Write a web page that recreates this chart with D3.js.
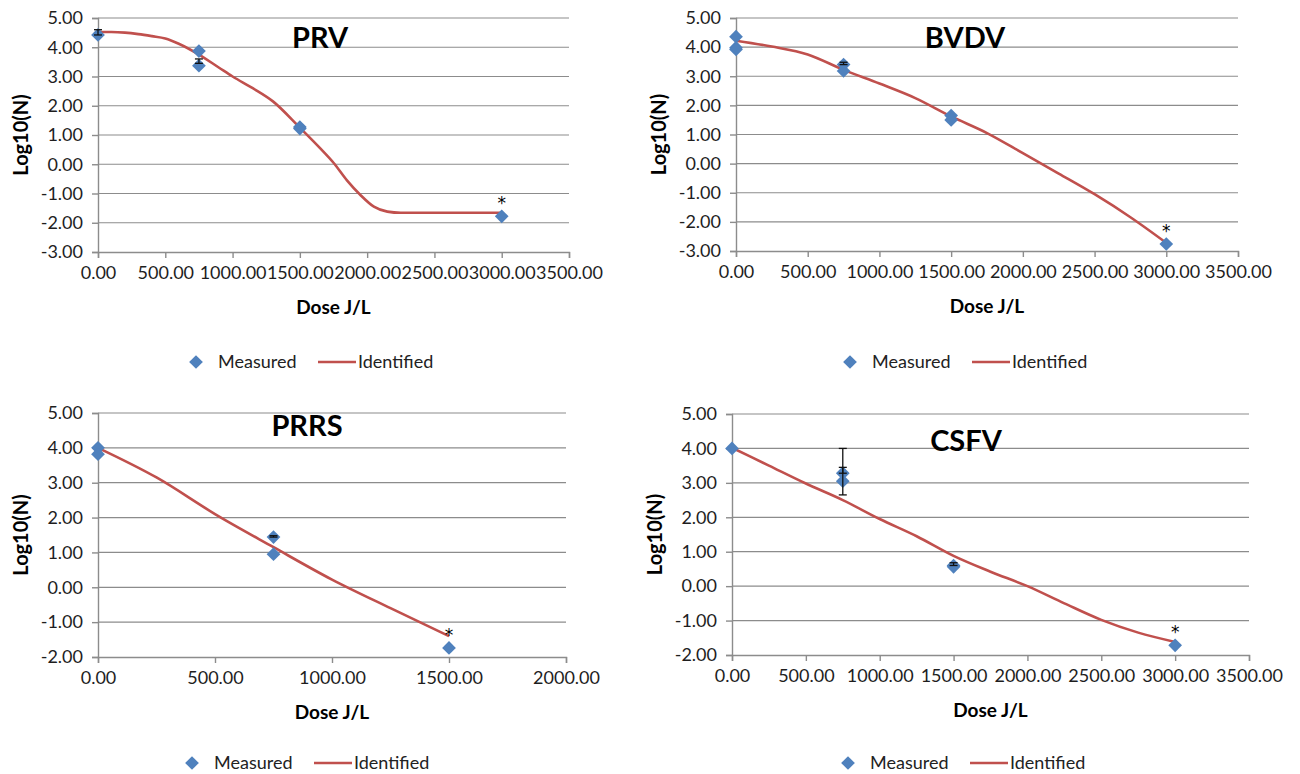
<!DOCTYPE html>
<html>
<head>
<meta charset="utf-8">
<script src="https://cdn.jsdelivr.net/npm/d3@7"></script>
<style>
  body { margin: 0; background: #fff; }
  svg text { font-family: Lato, "Liberation Sans", sans-serif; }
</style>
</head>
<body>
<script>
// measured points (dose J/L, log10 N)
var prvMeasX = [0, 750, 750, 1500, 1500, 3000];
var prvMeasY = [4.42, 3.87, 3.37, 1.27, 1.22, -1.78];
var prvFitX = [0, 100, 200, 300, 400, 500, 600, 750, 900, 1000, 1150, 1300, 1500, 1650, 1750, 1850, 1950, 2050, 2150, 2250, 3000];
var prvFitY = [4.52, 4.52, 4.5, 4.45, 4.38, 4.3, 4.12, 3.75, 3.3, 3.0, 2.6, 2.15, 1.25, 0.55, 0.05, -0.55, -1.05, -1.45, -1.62, -1.66, -1.66];
var prvErr = [[0, 4.42, 4.6], [750, 3.45, 3.6]];

var bvdvMeasX = [0, 0, 0, 750, 750, 1500, 1500, 3000];
var bvdvMeasY = [4.36, 3.98, 3.92, 3.4, 3.18, 1.65, 1.5, -2.76];
var bvdvFitX = [0, 250, 500, 750, 1000, 1250, 1500, 1750, 2000, 2250, 2500, 2750, 3000];
var bvdvFitY = [4.22, 4.02, 3.75, 3.22, 2.75, 2.25, 1.62, 1.05, 0.36, -0.34, -1.05, -1.84, -2.72];
var bvdvErr = [[750, 3.4, 3.48]];

var prrsMeasX = [0, 0, 750, 750, 1500];
var prrsMeasY = [4.0, 3.82, 1.44, 0.95, -1.74];
var prrsFitX = [0, 250, 500, 750, 1000, 1250, 1500];
var prrsFitY = [4.0, 3.15, 2.1, 1.15, 0.22, -0.6, -1.4];
var prrsErr = [[750, 1.44, 1.48]];

var csfvMeasX = [0, 750, 750, 1500, 1500, 3000];
var csfvMeasY = [4.0, 3.28, 3.05, 0.6, 0.56, -1.72];
var csfvFitX = [0, 250, 500, 750, 1000, 1250, 1500, 1750, 2000, 2250, 2500, 2750, 3000];
var csfvFitY = [4.02, 3.5, 2.98, 2.5, 1.95, 1.45, 0.88, 0.42, 0.0, -0.5, -0.98, -1.35, -1.62];
var csfvErr = [[750, 3.28, 4.0], [750, 2.65, 3.45], [1500, 0.6, 0.68]];

var titles = ["PRV", "BVDV", "PRRS", "CSFV"];
var xLabel = "Dose J/L";
var yLabel = "Log10(N)";
var legendLabels = ["Measured", "Identified"];

var blue = "#4f81bd", red = "#c0504d", grid = "#8c8c8c";

var svg = d3.select("body").append("svg")
    .attr("width", 1300)
    .attr("height", 774);

// one entry per panel: plot box and data
var panels = [
  { title: titles[0], box: { l: 98, r: 569, t: 18, b: 252 }, xMax: 3500, yMin: -3, yMax: 5,
    mx: prvMeasX, my: prvMeasY, fx: prvFitX, fy: prvFitY, err: prvErr,
    titleX: 320, titleY: 48, legX: 196, legY: 362, yLabX: 21 },
  { title: titles[1], box: { l: 736, r: 1238, t: 18, b: 251 }, xMax: 3500, yMin: -3, yMax: 5,
    mx: bvdvMeasX, my: bvdvMeasY, fx: bvdvFitX, fy: bvdvFitY, err: bvdvErr,
    titleX: 965, titleY: 48, legX: 850, legY: 362, yLabX: 659 },
  { title: titles[2], box: { l: 98, r: 566, t: 413, b: 657 }, xMax: 2000, yMin: -2, yMax: 5,
    mx: prrsMeasX, my: prrsMeasY, fx: prrsFitX, fy: prrsFitY, err: prrsErr,
    titleX: 307, titleY: 436, legX: 192, legY: 763, yLabX: 21 },
  { title: titles[3], box: { l: 732, r: 1249, t: 414, b: 655 }, xMax: 3500, yMin: -2, yMax: 5,
    mx: csfvMeasX, my: csfvMeasY, fx: csfvFitX, fy: csfvFitY, err: csfvErr,
    titleX: 966, titleY: 451, legX: 848, legY: 763, yLabX: 655 }
];

var diamond = d3.symbol().type(d3.symbolDiamond2).size(120);
var fmt = function(v) { return d3.format(".2f")(v).replace("\u2212", "-"); };

panels.forEach(function(p) {
  var b = p.box;
  var x = d3.scaleLinear().domain([0, p.xMax]).range([b.l, b.r]);
  var y = d3.scaleLinear().domain([p.yMin, p.yMax]).range([b.b, b.t]);
  var g = svg.append("g");

  // horizontal grid
  var yTicks = d3.range(p.yMin, p.yMax + 1, 1);
  g.append("g").selectAll("line").data(yTicks.filter(function(v) { return v > p.yMin; }))
    .enter().append("line")
    .attr("x1", b.l).attr("x2", b.r)
    .attr("y1", function(d) { return y(d); }).attr("y2", function(d) { return y(d); })
    .attr("stroke", grid).attr("stroke-width", 1.2);

  // axes
  var xAxis = g.append("g")
    .attr("transform", "translate(0," + b.b + ")")
    .call(d3.axisBottom(x).tickValues(d3.range(0, p.xMax + 1, 500)).tickFormat(fmt).tickSizeOuter(0).tickSize(6).tickPadding(8));
  var yAxis = g.append("g")
    .attr("transform", "translate(" + b.l + ",0)")
    .call(d3.axisLeft(y).tickValues(yTicks).tickFormat(fmt).tickSizeOuter(0).tickSize(6).tickPadding(9));
  [xAxis, yAxis].forEach(function(a) {
    a.selectAll("path, line").attr("stroke", grid).attr("stroke-width", 1.4);
    a.selectAll("text").attr("fill", "#1e1e1e").style("font-size", "18px")
      .style("font-family", "Lato, sans-serif");
  });

  // fitted curve
  var pts = p.fx.map(function(v, i) { return [v, p.fy[i]]; });
  g.append("path")
    .datum(pts)
    .attr("fill", "none")
    .attr("stroke", red)
    .attr("stroke-width", 2.6)
    .attr("d", d3.line()
      .x(function(d) { return x(d[0]); })
      .y(function(d) { return y(d[1]); })
      .curve(d3.curveMonotoneX));

  // measured diamonds
  var meas = p.mx.map(function(v, i) { return [v, p.my[i]]; });
  g.append("g").selectAll("path").data(meas).enter().append("path")
    .attr("d", diamond)
    .attr("transform", function(d) { return "translate(" + x(d[0]) + "," + y(d[1]) + ")"; })
    .attr("fill", blue);

  // error bars
  p.err.forEach(function(e) {
    var eg = g.append("g").attr("stroke", "#111").attr("stroke-width", 1.3);
    eg.append("line").attr("x1", x(e[0])).attr("x2", x(e[0])).attr("y1", y(e[1])).attr("y2", y(e[2]));
    eg.append("line").attr("x1", x(e[0]) - 4).attr("x2", x(e[0]) + 4).attr("y1", y(e[2])).attr("y2", y(e[2]));
    eg.append("line").attr("x1", x(e[0]) - 4).attr("x2", x(e[0]) + 4).attr("y1", y(e[1])).attr("y2", y(e[1]));
  });

  // asterisk on the last measured point
  var last = meas[meas.length - 1];
  g.append("text")
    .attr("x", x(last[0])).attr("y", y(last[1]) - 7)
    .attr("text-anchor", "middle")
    .style("font-family", "DejaVu Sans, sans-serif")
    .style("font-size", "17px")
    .text("*");

  // title
  g.append("text")
    .attr("x", p.titleX).attr("y", p.titleY)
    .attr("text-anchor", "middle")
    .style("font-size", "29px").style("font-weight", "bold")
    .text(p.title);

  // axis titles
  g.append("text")
    .attr("x", (b.l + b.r) / 2).attr("y", b.b + 62)
    .attr("text-anchor", "middle")
    .style("font-size", "19px").style("font-weight", "bold")
    .text(xLabel);
  g.append("text")
    .attr("transform", "translate(" + p.yLabX + "," + ((b.t + b.b) / 2) + ") rotate(-90)")
    .attr("text-anchor", "middle")
    .attr("dy", "0.35em")
    .style("font-size", "20px").style("font-weight", "bold")
    .text(yLabel);

  // legend
  var lg = g.append("g").attr("transform", "translate(" + p.legX + "," + p.legY + ")");
  lg.append("path").attr("d", diamond).attr("fill", blue);
  lg.append("text").attr("x", 22).attr("dy", "0.35em").style("font-size", "18px").attr("fill", "#222").text(legendLabels[0]);
  lg.append("line").attr("x1", 122).attr("x2", 160).attr("stroke", red).attr("stroke-width", 2.6);
  lg.append("text").attr("x", 162).attr("dy", "0.35em").style("font-size", "18px").attr("fill", "#222").text(legendLabels[1]);
});
</script>
</body>
</html>
